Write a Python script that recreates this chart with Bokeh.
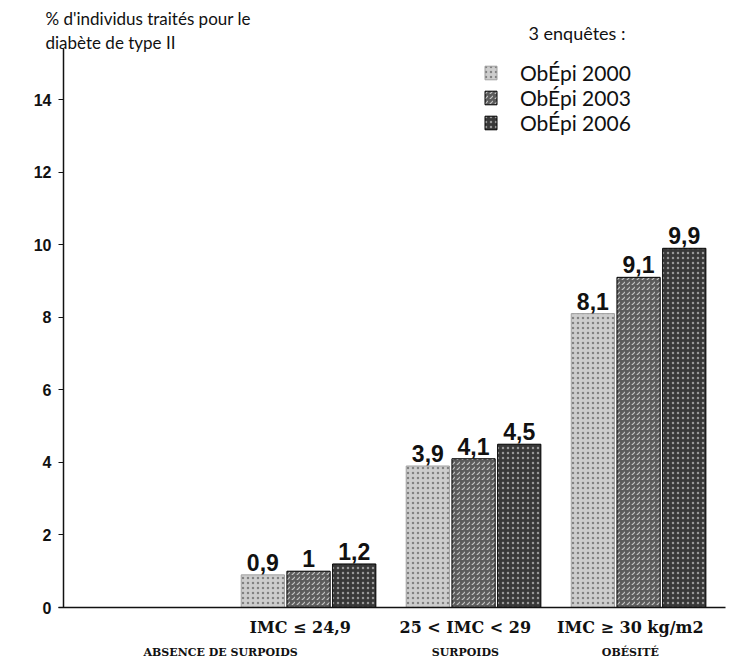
from bokeh.plotting import figure
from bokeh.models import (Range1d, FixedTicker, LinearAxis, Legend, LegendItem,
                          Label, ColumnDataSource)
from bokeh.transform import dodge
from bokeh.core.properties import value
from bokeh.embed import file_html
from bokeh.resources import INLINE

# ---------------- data ----------------
categories = ["IMC ≤ 24,9", "25 < IMC < 29", "IMC ≥ 30 kg/m2"]
groups = ["ABSENCE DE SURPOIDS", "SURPOIDS", "OBÉSITÉ"]
series = ["ObÉpi 2000", "ObÉpi 2003", "ObÉpi 2006"]
obepi_2000 = [0.9, 3.9, 8.1]
obepi_2003 = [1.0, 4.1, 9.1]
obepi_2006 = [1.2, 4.5, 9.9]
y_ticks = [0, 2, 4, 6, 8, 10, 12, 14]
title_lines = ["% d'individus traités pour le", "diabète de type II"]
legend_title = "3 enquêtes :"

# ---------------- styles ----------------
fills = ["#cdcdcd", "#5c5c5c", "#383838"]
hatch_colors = ["#6e6e6e", "#dcdcdc", "#b0b0b0"]
hatches = ["dot", "right_diagonal_dash", "dot"]
outlines = ["#a0a0a0", "#000000", "#000000"]
offsets = [-0.277, 0.0, 0.277]
bar_w = 0.262
SANS = "Lato"
NUM = "Liberation Sans"
SERIF = "DejaVu Serif"
W, H = 727, 664
X0, X1 = -0.8667, 3.539         # x range (frame covers the whole figure)
Y0, Y1 = -1.571, 16.73          # y range
YAXIS_X = -0.485                # where the y axis is drawn
YAXIS_TOP = 15.4
XAXIS_END = 3.527

xpos = [i + 1 for i in range(len(categories))]
cat_pos = [x - 0.05 for x in xpos]
group_pos = [xpos[0] - 0.533, xpos[1] - 0.05, xpos[2] - 0.05]

def fmt(v):
    return f"{v:g}".replace(".", ",")

src = ColumnDataSource(dict(
    x=xpos,
    v0=obepi_2000, v1=obepi_2003, v2=obepi_2006,
    t0=[fmt(v) for v in obepi_2000],
    t1=[fmt(v) for v in obepi_2003],
    t2=[fmt(v) for v in obepi_2006],
))

p = figure(width=W, height=H, output_backend="svg", toolbar_location=None,
           x_range=Range1d(X0, X1), y_range=Range1d(Y0, Y1),
           min_border_left=0, min_border_right=0, min_border_top=0,
           min_border_bottom=0)
p.outline_line_color = None
p.xgrid.visible = False
p.ygrid.visible = False
p.background_fill_color = "white"

renderers = []
for i in range(3):
    r = p.vbar(x=dodge("x", offsets[i], range=p.x_range), top=f"v{i}", width=bar_w,
               bottom=0, source=src, fill_color=fills[i], line_color=outlines[i],
               line_width=1, hatch_pattern=hatches[i], hatch_color=hatch_colors[i],
               hatch_scale=5, hatch_weight=1.2, hatch_alpha=0.8)
    renderers.append(r)
    p.text(x=dodge("x", offsets[i], range=p.x_range), y=f"v{i}", text=f"t{i}",
           source=src, text_align="center", text_baseline="bottom", y_offset=-4,
           text_font=value(NUM), text_font_style="bold", text_font_size="23px",
           text_color="#111111")

# y axis
ya = p.yaxis[0]
ya.fixed_location = YAXIS_X
ya.bounds = (0, YAXIS_TOP)
ya.ticker = FixedTicker(ticks=y_ticks)
ya.major_tick_out = 5
ya.major_tick_in = 0
ya.minor_tick_line_color = None
ya.axis_line_width = 1.5
ya.axis_line_color = "#111111"
ya.major_tick_line_color = "#111111"
ya.major_label_text_font = NUM
ya.major_label_text_font_style = "bold"
ya.major_label_text_font_size = "16px"
ya.major_label_text_color = "#111111"
ya.major_label_standoff = 7

# x axis (first line of labels)
xa = p.xaxis[0]
xa.fixed_location = 0
xa.bounds = (YAXIS_X - 0.03, XAXIS_END)
xa.ticker = FixedTicker(ticks=cat_pos)
xa.major_label_overrides = {x: c for x, c in zip(cat_pos, categories)}
xa.major_tick_line_color = None
xa.minor_tick_line_color = None
xa.axis_line_width = 1.5
xa.axis_line_color = "#111111"
xa.major_label_text_font = SERIF
xa.major_label_text_font_style = "bold"
xa.major_label_text_font_size = "16px"
xa.major_label_text_color = "#111111"
xa.major_label_standoff = 4

# second line of labels
xa2 = LinearAxis(ticker=FixedTicker(ticks=group_pos), fixed_location=0,
                 major_label_overrides={g: t for g, t in zip(group_pos, groups)})
xa2.axis_line_color = None
xa2.major_tick_line_color = None
xa2.minor_tick_line_color = None
xa2.major_label_text_font = SERIF
xa2.major_label_text_font_style = "bold"
xa2.major_label_text_font_size = "11px"
xa2.major_label_text_color = "#111111"
xa2.major_label_standoff = 32
p.add_layout(xa2, "below")

# titles
p.add_layout(Label(x=-0.594, y=16.23, text=title_lines[0], text_font=SANS,
                   text_font_size="17px", text_baseline="middle", text_color="#111111"))
p.add_layout(Label(x=-0.594, y=15.57, text=title_lines[1], text_font=SANS,
                   text_font_size="17px", text_baseline="middle", text_color="#111111"))
p.add_layout(Label(x=2.333, y=15.84, text=legend_title, text_font=SANS,
                   text_font_size="18px", text_baseline="middle", text_color="#111111"))

legend = Legend(items=[LegendItem(label=s, renderers=[r]) for s, r in zip(series, renderers)],
                location=(483, 529), orientation="vertical")
legend.glyph_width = 15
legend.glyph_height = 17
legend.label_height = 20
legend.spacing = 0
legend.padding = 0
legend.margin = 0
legend.label_standoff = 22
legend.label_text_font = SANS
legend.label_text_font_size = "21px"
legend.label_text_color = "#111111"
legend.border_line_color = None
legend.background_fill_alpha = 0
p.add_layout(legend, "center")

open("out.html", "w").write(file_html(p, INLINE))
